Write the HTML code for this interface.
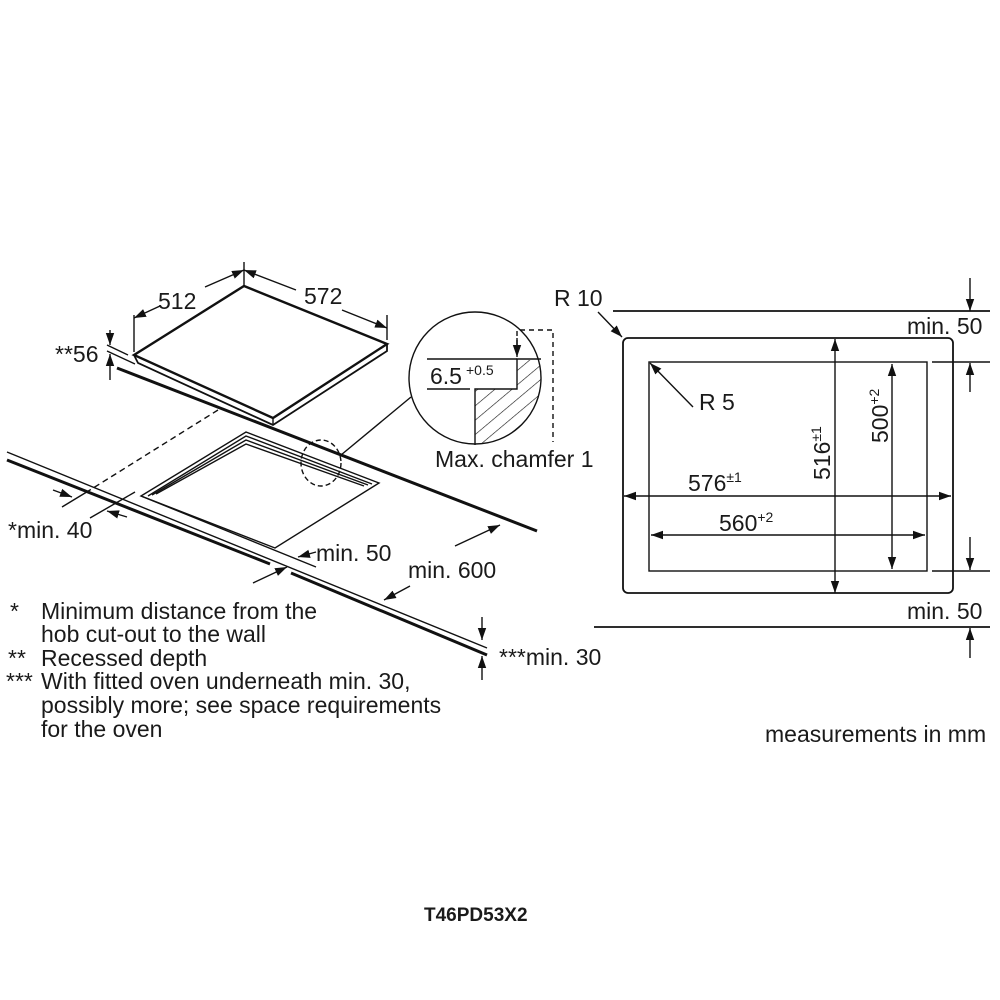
<!DOCTYPE html>
<html><head><style>
html,body{margin:0;padding:0;background:#fff}
svg{display:block}
text{font-family:"Liberation Sans",Arial,sans-serif;fill:#1a1a1a}
</style></head><body>
<svg width="1000" height="1000" viewBox="0 0 1000 1000" xmlns="http://www.w3.org/2000/svg">
<defs>
<marker id="a" viewBox="0 0 10 10" refX="10" refY="5" markerWidth="12" markerHeight="12" markerUnits="userSpaceOnUse" orient="auto"><path d="M0,1.5 L10,5 L0,8.5 z" fill="#111"/></marker>
<clipPath id="cc"><circle cx="475" cy="378" r="66"/></clipPath>
<pattern id="h" patternUnits="userSpaceOnUse" width="11" height="11" patternTransform="rotate(50)">
<line x1="0" y1="0" x2="0" y2="11" stroke="#111" stroke-width="1.2"/>
</pattern>
</defs>
<g stroke="#111" fill="none" stroke-width="1.4">
<path d="M134,355 L244,286 L387,344 L273,418 Z" stroke-width="2.4"/>
<path d="M134,355 L138,363 L273,425 L387,351 L387,344" stroke-width="1.8"/>
<path d="M273,418 L273,425"/>
<line x1="244" y1="262" x2="244" y2="286"/>
<line x1="134" y1="315" x2="134" y2="352"/>
<line x1="387" y1="315" x2="387" y2="340"/>
<line x1="205" y1="287" x2="244" y2="270" marker-end="url(#a)"/>
<line x1="160" y1="306" x2="134" y2="318" marker-end="url(#a)"/>
<line x1="296" y1="290" x2="244" y2="270" marker-end="url(#a)"/>
<line x1="342" y1="310" x2="387" y2="328" marker-end="url(#a)"/>
<line x1="107" y1="345" x2="128" y2="355"/>
<line x1="107" y1="351" x2="135" y2="364"/>
<line x1="117" y1="368" x2="537" y2="531" stroke-width="3"/>
<line x1="110" y1="330" x2="110" y2="345" marker-end="url(#a)"/>
<line x1="110" y1="380" x2="110" y2="354" marker-end="url(#a)"/>
<line x1="7" y1="452" x2="487" y2="648"/>
<line x1="7" y1="460" x2="270" y2="564" stroke-width="3"/>
<line x1="291" y1="573" x2="487" y2="655" stroke-width="3"/>
<path d="M141,496 L246,432 L379,483 L275,548 Z"/>
<path d="M148,496 L246,436 L372,484"/>
<path d="M152,495 L246,440 L368,485"/>
<path d="M156,494 L246,444 L364,486"/>
<line x1="141" y1="496" x2="316" y2="567"/>
<line x1="218" y1="410" x2="90" y2="490" stroke-dasharray="6,4"/>
<line x1="90" y1="490" x2="62" y2="507"/>
<line x1="135" y1="492" x2="90" y2="518"/>
<line x1="53" y1="490" x2="72" y2="497" marker-end="url(#a)"/>
<line x1="127" y1="517" x2="107" y2="511" marker-end="url(#a)"/>
<ellipse cx="321" cy="463" rx="20" ry="23" stroke-dasharray="5,3"/>
<line x1="341" y1="455" x2="411" y2="397"/>
<line x1="316" y1="552" x2="298" y2="557" marker-end="url(#a)"/>
<line x1="253" y1="583" x2="287" y2="567" marker-end="url(#a)"/>
<line x1="410" y1="586" x2="384" y2="600" marker-end="url(#a)"/>
<line x1="455" y1="546" x2="500" y2="525" marker-end="url(#a)"/>
<line x1="482" y1="617" x2="482" y2="640" marker-end="url(#a)"/>
<line x1="482" y1="680" x2="482" y2="656" marker-end="url(#a)"/>
<g clip-path="url(#cc)">
<path d="M517,360 L560,360 L560,450 L475,450 L475,389 L517,389 Z" fill="url(#h)" stroke="none"/>
</g>
<circle cx="475" cy="378" r="66"/>
<path d="M475,445 L475,389 L517,389 L517,359 L541,359"/>
<line x1="427" y1="359" x2="517" y2="359"/>
<line x1="427" y1="389" x2="470" y2="389"/>
<path d="M517,345 L517,330 L553,330 L553,442" stroke-dasharray="5,4"/>
<line x1="517" y1="338" x2="517" y2="357" marker-end="url(#a)"/>
<line x1="613" y1="311" x2="990" y2="311" stroke-width="1.8"/>
<line x1="594" y1="627" x2="990" y2="627" stroke-width="1.8"/>
<rect x="623" y="338" width="330" height="255" rx="5" stroke-width="1.8"/>
<rect x="649" y="362" width="278" height="209"/>
<line x1="932" y1="362" x2="990" y2="362"/>
<line x1="932" y1="571" x2="990" y2="571"/>
<line x1="970" y1="278" x2="970" y2="311" marker-end="url(#a)"/>
<line x1="970" y1="392" x2="970" y2="363" marker-end="url(#a)"/>
<line x1="970" y1="537" x2="970" y2="570" marker-end="url(#a)"/>
<line x1="970" y1="658" x2="970" y2="628" marker-end="url(#a)"/>
<line x1="598" y1="312" x2="622" y2="337" marker-end="url(#a)"/>
<line x1="693" y1="407" x2="650" y2="363" marker-end="url(#a)"/>
<line x1="788" y1="496" x2="624" y2="496" marker-end="url(#a)"/>
<line x1="788" y1="496" x2="951" y2="496" marker-end="url(#a)"/>
<line x1="788" y1="535" x2="651" y2="535" marker-end="url(#a)"/>
<line x1="788" y1="535" x2="925" y2="535" marker-end="url(#a)"/>
<line x1="835" y1="466" x2="835" y2="339" marker-end="url(#a)"/>
<line x1="835" y1="466" x2="835" y2="593" marker-end="url(#a)"/>
<line x1="892" y1="466" x2="892" y2="364" marker-end="url(#a)"/>
<line x1="892" y1="466" x2="892" y2="569" marker-end="url(#a)"/>
</g>
<g font-size="23">
<text x="158" y="309">512</text>
<text x="304" y="304">572</text>
<text x="55" y="362">**56</text>
<text x="430" y="384">6.5</text>
<text x="466" y="375" font-size="14">+0.5</text>
<text x="435" y="467">Max. chamfer 1</text>
<text x="8" y="538">*min. 40</text>
<text x="316" y="561">min. 50</text>
<text x="408" y="578">min. 600</text>
<text x="499" y="665">***min. 30</text>
<text x="10" y="619">*</text>
<text x="41" y="619">Minimum distance from the</text>
<text x="41" y="642">hob cut-out to the wall</text>
<text x="8" y="666">**</text>
<text x="41" y="666">Recessed depth</text>
<text x="6" y="689">***</text>
<text x="41" y="689">With fitted oven underneath min. 30,</text>
<text x="41" y="713">possibly more; see space requirements</text>
<text x="41" y="737">for the oven</text>
<text x="554" y="306">R 10</text>
<text x="907" y="334">min. 50</text>
<text x="907" y="619">min. 50</text>
<text x="699" y="410">R 5</text>
<text x="688" y="491">576<tspan font-size="14" dy="-9">±1</tspan></text>
<text x="719" y="531">560<tspan font-size="14" dy="-9">+2</tspan></text>
<text transform="translate(830,480) rotate(-90)">516<tspan font-size="14" dy="-9">±1</tspan></text>
<text transform="translate(888,443) rotate(-90)">500<tspan font-size="14" dy="-9">+2</tspan></text>
<text x="765" y="742">measurements in mm</text>
<text x="424" y="921" font-size="19" font-weight="bold">T46PD53X2</text>
</g>
</svg>
</body></html>
